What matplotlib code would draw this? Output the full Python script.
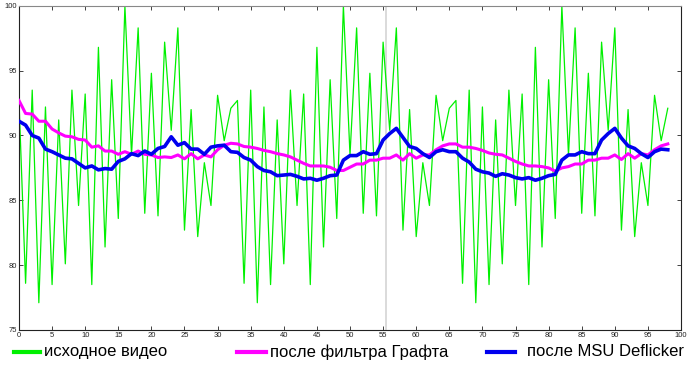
"""Brightness per frame: source video vs. Graft filter vs. MSU Deflicker."""

import matplotlib
matplotlib.use("Agg")

import matplotlib.pyplot as plt
import numpy as np
from matplotlib.lines import Line2D

# ── data ──────────────────────────────────────────────────────────────────────

frames = np.arange(99)

source = [
    92.7, 78.6, 93.5, 77.1, 92.2, 78.5, 91.2, 80.1, 93.5, 84.6, 93.2, 78.5,
    96.8, 81.4, 94.3, 83.6, 100.0, 88.5, 98.3, 84.0, 94.8, 83.8, 97.2, 90.4,
    98.3, 82.7, 92.0, 82.2, 87.9, 84.6, 93.1, 89.6, 92.1,
    92.7, 78.6, 93.5, 77.1, 92.2, 78.5, 91.2, 80.1, 93.5, 84.6, 93.2, 78.5,
    96.8, 81.4, 94.3, 83.6, 100.0, 88.5, 98.3, 84.0, 94.8, 83.8, 97.2, 90.4,
    98.3, 82.7, 92.0, 82.2, 87.9, 84.6, 93.1, 89.6, 92.1,
    92.7, 78.6, 93.5, 77.1, 92.2, 78.5, 91.2, 80.1, 93.5, 84.6, 93.2, 78.5,
    96.8, 81.4, 94.3, 83.6, 100.0, 88.5, 98.3, 84.0, 94.8, 83.8, 97.2, 90.4,
    98.3, 82.7, 92.0, 82.2, 87.9, 84.6, 93.1, 89.6, 92.1,
]

graft = [
    92.7, 91.7, 91.65, 91.1, 91.1, 90.5, 90.2, 89.95, 89.9, 89.7,
    89.65, 89.1, 89.2, 88.8, 88.8, 88.55, 88.75, 88.55, 88.8, 88.55,
    88.5, 88.3, 88.35, 88.3, 88.5, 88.2, 88.6, 88.2, 88.5, 88.35,
    88.9, 89.25, 89.4, 89.35, 89.15, 89.1, 89.0, 88.85, 88.75, 88.6,
    88.5, 88.35, 88.1, 87.85, 87.65, 87.65, 87.65, 87.55, 87.3, 87.3,
    87.55, 87.8, 87.8, 88.1, 88.1, 88.25, 88.25, 88.5, 88.1, 88.6,
    88.25, 88.5, 88.5, 88.9, 89.2, 89.35, 89.35, 89.1, 89.1, 89.0,
    88.85, 88.65, 88.55, 88.5, 88.25, 88.0, 87.8, 87.65, 87.65, 87.6,
    87.5, 87.25, 87.5, 87.6, 87.8, 87.8, 88.1, 88.1, 88.25, 88.25,
    88.5, 88.15, 88.6, 88.25, 88.6, 88.5, 88.9, 89.2, 89.35,
]

msu = [
    91.1, 90.8, 90.0, 89.8, 88.95, 88.75, 88.5, 88.25, 88.2, 87.85,
    87.5, 87.65, 87.35, 87.45, 87.4, 88.0, 88.2, 88.6, 88.45, 88.8,
    88.55, 89.0, 89.15, 89.9, 89.25, 89.45, 88.95, 88.95, 88.55, 89.1,
    89.2, 89.25, 88.75, 88.7, 88.3, 88.1, 87.6, 87.3, 87.2, 86.9,
    86.95, 87.0, 86.85, 86.65, 86.7, 86.55, 86.7, 86.9, 86.95, 88.1,
    88.45, 88.45, 88.75, 88.55, 88.6, 89.65, 90.15, 90.55, 89.85, 89.15,
    89.0, 88.6, 88.3, 88.75, 88.9, 88.75, 88.75, 88.25, 87.95, 87.4,
    87.2, 87.1, 86.85, 87.05, 86.95, 86.75, 86.65, 86.75, 86.55, 86.7,
    86.9, 87.0, 88.1, 88.5, 88.5, 88.75, 88.6, 88.6, 89.65, 90.15,
    90.55, 89.8, 89.2, 89.0, 88.6, 88.3, 88.75, 88.95, 88.9,
]

marker_frame = 55.5

labels = ["исходное видео", "после фильтра Графта", "после MSU Deflicker"]
colors = ["#00f000", "#ff00ff", "#0000ee"]


# ── plot ──────────────────────────────────────────────────────────────────────


def main() -> None:
    plt.rcParams["font.family"] = ["Liberation Sans", "DejaVu Sans"]

    fig = plt.figure(figsize=(6.9, 3.65), dpi=100)
    ax = fig.add_axes([0.0275, 0.096, 0.9595, 0.888])

    ax.axvline(marker_frame, color="#d4d4d4", linewidth=1.2, zorder=1)
    ax.plot(frames, source, color=colors[0], linewidth=0.9, zorder=2)
    ax.plot(frames, graft, color=colors[1], linewidth=2.2, zorder=3)
    ax.plot(frames, msu, color=colors[2], linewidth=2.6, zorder=4)

    ax.set_xlim(0, 100)
    ax.set_ylim(75, 100)
    ax.set_xticks(np.arange(0, 101, 5))
    ax.set_yticks(np.arange(75, 101, 5))
    ax.tick_params(direction="in", length=3, width=0.6, labelsize=5.5,
                   top=True, right=True, pad=1.5, colors="#222222")
    for side in ("left", "bottom", "right"):
        ax.spines[side].set_color("#222222")
        ax.spines[side].set_linewidth(0.8)
    ax.spines["top"].set_color("#888888")
    ax.spines["top"].set_linewidth(0.8)

    # legend row along the bottom
    y = 0.036
    handles = [(0.020, 0.058, 0.064), (0.343, 0.386, 0.392), (0.706, 0.746, 0.764)]
    for (x0, x1, xt), lab, col in zip(handles, labels, colors):
        fig.add_artist(Line2D([x0, x1], [y, y], transform=fig.transFigure,
                              color=col, linewidth=3))
        fig.text(xt, y, lab, fontsize=12, va="center", ha="left")

    fig.savefig("out.png", dpi=100)
    plt.close(fig)


if __name__ == "__main__":
    main()
